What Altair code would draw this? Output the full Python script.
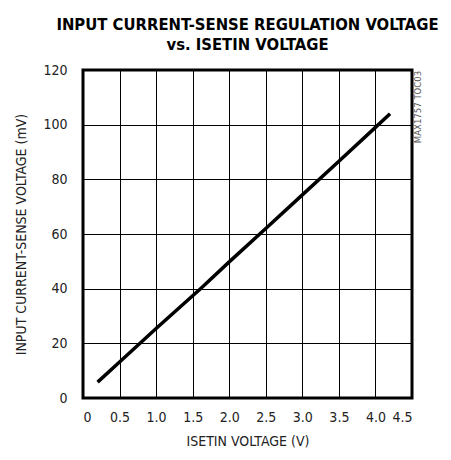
import altair as alt
import pandas as pd

isetin_v = [0.2, 0.5, 1.0, 1.5, 1.6, 2.0, 2.5, 3.0, 3.5, 4.0, 4.2]
sense_mv = [5.8, 13.2, 25.4, 37.4, 39.8, 49.8, 62.0, 74.3, 86.6, 99.0, 104.0]

x_ticks = [0, 0.5, 1.0, 1.5, 2.0, 2.5, 3.0, 3.5, 4.0, 4.5]
y_ticks = [0, 20, 40, 60, 80, 100, 120]

df = pd.DataFrame({"x": isetin_v, "y": sense_mv})

FONT = "'Liberation Sans Narrow', 'DejaVu Sans Condensed', 'Roboto', sans-serif"

line = alt.Chart(df).mark_line(color="black", strokeWidth=3.5, strokeCap="butt").encode(
    x=alt.X("x:Q",
            scale=alt.Scale(domain=[0, 4.5], nice=False),
            axis=alt.Axis(values=x_ticks, labelExpr="datum.value == 0 ? '0' : format(datum.value, '.1f')",
                          title="ISETIN VOLTAGE (V)", grid=True, tickSize=0,
                          labelPadding=12, titlePadding=10)),
    y=alt.Y("y:Q",
            scale=alt.Scale(domain=[0, 120], nice=False),
            axis=alt.Axis(values=y_ticks, title="INPUT CURRENT-SENSE VOLTAGE (mV)",
                          grid=True, tickSize=0, labelPadding=16, titlePadding=14)),
)

note = alt.Chart(pd.DataFrame({"t": ["MAX1757 TOC03"]})).mark_text(
    angle=270, font=FONT, fontSize=9.5, color="#555555", align="center", baseline="middle"
).encode(text="t:N", x=alt.value(335), y=alt.value(37))

chart = alt.layer(line, note).properties(
    width=329,
    height=328,
    title=alt.Title(["INPUT CURRENT-SENSE REGULATION VOLTAGE", "vs. ISETIN VOLTAGE"],
                    font=FONT, fontSize=16.5, fontWeight="bold", anchor="middle",
                    lineHeight=20, offset=10, color="black"),
    autosize=alt.AutoSizeParams(type="none"),
    padding={"left": 75, "top": 62, "right": 30, "bottom": 53},
    background="white",
).configure_view(stroke="black", strokeWidth=3).configure_axis(
    domain=False, gridColor="black", gridWidth=1, gridOpacity=1,
    labelFont=FONT, labelFontSize=14, labelColor="#222222",
    titleFont=FONT, titleFontSize=14, titleFontWeight="normal", titleColor="#222222",
)

chart.save("out.html", embed_options={"renderer": "svg", "actions": False})
